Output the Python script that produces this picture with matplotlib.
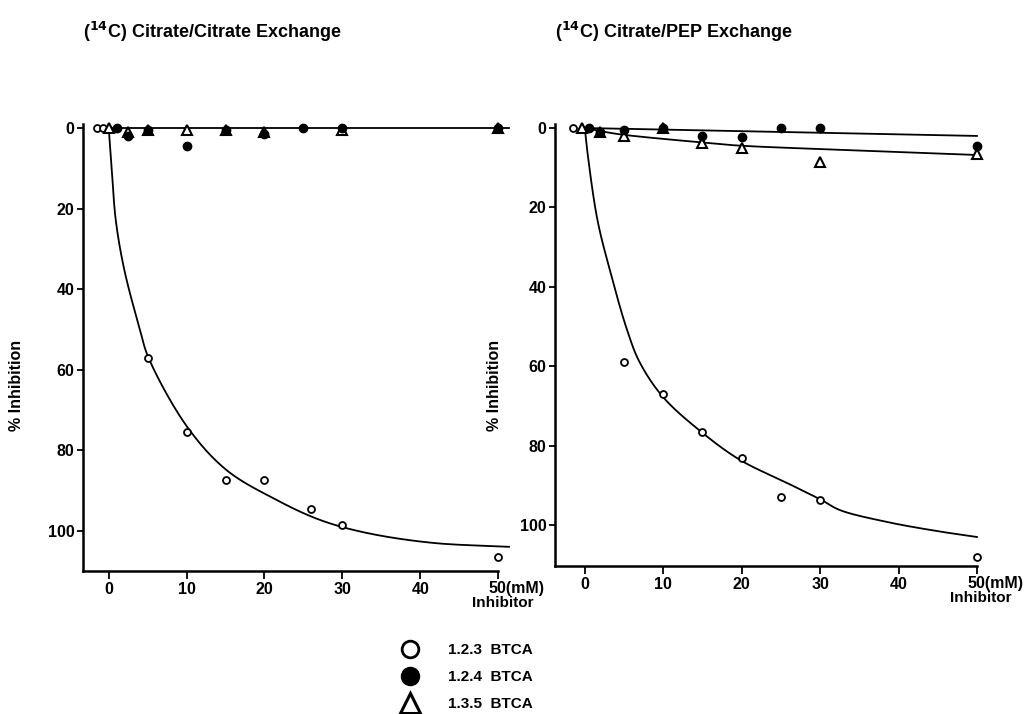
import matplotlib
matplotlib.use("Agg")
import matplotlib.pyplot as plt
from matplotlib.lines import Line2D
import numpy as np

# ---- data ----
# left panel: (14C) citrate / citrate exchange
L_open_x = [-1.5, -0.7, 5, 10, 15, 20, 26, 30, 50]
L_open_y = [0, 0, 57, 75.5, 87.5, 87.5, 94.5, 98.5, 106.5]
L_fill_x = [1, 2.5, 5, 10, 15, 20, 25, 30, 50]
L_fill_y = [0, 2, 0.5, 4.5, 0.5, 1.5, 0, 0, 0]
L_tri_x = [0, 2.5, 5, 10, 15, 20, 30, 50]
L_tri_y = [0, 1, 0.5, 0.5, 0.5, 1, 0.5, 0]
# hand drawn curves in the original
L_fit_x = [0, 0.4, 0.9, 2.0, 4.0, 5.1, 10, 15.1, 21.5, 27.1, 33.0, 41.5, 51.4]
L_fit_y = [0, 10.4, 22.8, 35.2, 50, 57, 74, 84.9, 92.3, 97.3, 100.5, 103, 104]
L_flat_x = [0.3, 51.4]
L_flat_y = [0, 0]

# right panel: (14C) citrate / PEP exchange
R_open_x = [-1.5, 5, 10, 15, 20, 25, 30, 50]
R_open_y = [0, 59, 67, 76.5, 83, 93, 93.7, 108]
R_fill_x = [0.6, 2, 5, 10, 15, 20, 25, 30, 50]
R_fill_y = [0, 1, 0.5, 0, 2, 2.3, 0, 0, 4.5]
R_tri_x = [-0.3, 2, 5, 10, 15, 20, 30, 50]
R_tri_y = [0, 1, 2, 0, 3.8, 5, 8.6, 6.5]
R_fit_x = [0, 0.3, 1.6, 3.2, 5.4, 7, 10, 14.9, 19.8, 25.8, 30.2, 32.5, 38.5, 44.9, 50]
R_fit_y = [0, 5.5, 23, 35.8, 50.9, 59, 67.8, 76.6, 83.6, 89.4, 93.7, 96.2, 99.2, 101.5, 103]
R_top_x = [0, 50]
R_top_y = [0, 2]
R_tri_fit_x = [0, 1.5, 4.5, 14.7, 19.4, 34, 50]
R_tri_fit_y = [0, 0.6, 1.6, 3.6, 4.4, 5.6, 6.8]

xticks = [0, 10, 20, 30, 40]
yticks = [0, 20, 40, 60, 80, 100]
titles = [r"($^{14}$C) Citrate/Citrate Exchange", r"($^{14}$C) Citrate/PEP Exchange"]
legend_labels = ["1.2.3  BTCA", "1.2.4  BTCA", "1.3.5  BTCA"]


def smooth(xs, ys, n=24):
    # centripetal catmull-rom through the read points, so the pen line looks drawn
    P = np.column_stack([np.asarray(xs, float) * 7.8, np.asarray(ys, float) * 4.0])
    P = np.vstack([2 * P[0] - P[1], P, 2 * P[-1] - P[-2]])
    out = [P[1]]
    for i in range(1, len(P) - 2):
        p0, p1, p2, p3 = P[i - 1], P[i], P[i + 1], P[i + 2]
        t0 = 0.0
        t1 = t0 + np.linalg.norm(p1 - p0) ** 0.5
        t2 = t1 + np.linalg.norm(p2 - p1) ** 0.5
        t3 = t2 + np.linalg.norm(p3 - p2) ** 0.5
        t = np.linspace(t1, t2, n)[1:, None]
        a1 = (t1 - t) / (t1 - t0) * p0 + (t - t0) / (t1 - t0) * p1
        a2 = (t2 - t) / (t2 - t1) * p1 + (t - t1) / (t2 - t1) * p2
        a3 = (t3 - t) / (t3 - t2) * p2 + (t - t2) / (t3 - t2) * p3
        b1 = (t2 - t) / (t2 - t0) * a1 + (t - t0) / (t2 - t0) * a2
        b2 = (t3 - t) / (t3 - t1) * a2 + (t - t1) / (t3 - t1) * a3
        c = (t2 - t) / (t2 - t1) * b1 + (t - t1) / (t2 - t1) * b2
        out.extend(c)
    out = np.array(out)
    return out[:, 0] / 7.8, out[:, 1] / 4.0


plt.rcParams['font.family'] = ['Liberation Sans', 'DejaVu Sans']
plt.rcParams['font.weight'] = 'bold'
plt.rcParams['mathtext.default'] = 'bf'

fig = plt.figure(figsize=(10.3, 7.14), dpi=100)
axL = fig.add_axes([0.0806, 0.2003, 0.403, 0.626])
axR = fig.add_axes([0.5388, 0.2073, 0.4097, 0.619])

ms_open = dict(marker='o', mfc='white', mec='black', ms=5, mew=1.3, ls='none', clip_on=False, zorder=4)
ms_fill = dict(marker='o', mfc='black', mec='black', ms=6, ls='none', clip_on=False, zorder=5)
ms_tri = dict(marker='^', mfc='white', mec='black', ms=7, mew=1.5, ls='none', clip_on=False, zorder=4)
line_kw = dict(color='black', lw=1.3, clip_on=False, zorder=3)


def style(ax, xmin, ymax, title, ylab_x):
    ax.set_xlim(xmin, 50)
    ax.set_ylim(ymax, -1)
    for s in ['top', 'right']:
        ax.spines[s].set_visible(False)
    for s in ['left', 'bottom']:
        ax.spines[s].set_linewidth(1.8)
    ax.set_xticks(xticks + [50])
    ax.set_xticklabels([str(t) for t in xticks] + [""])
    ax.set_yticks(yticks)
    ax.set_yticklabels([str(t) for t in yticks])
    ax.tick_params(axis='both', direction='out', width=1.3, length=4,
                   labelsize=11.5, pad=2)
    ax.tick_params(axis='x', length=6, pad=2)
    ax.annotate("50(mM)", xy=(50, 0), xycoords=('data', 'axes fraction'),
                xytext=(-7, -7), textcoords='offset points',
                ha='left', va='top', fontsize=11.5, fontweight='bold')
    ax.annotate("Inhibitor", xy=(50, 0), xycoords=('data', 'axes fraction'),
                xytext=(3, -18), textcoords='offset points',
                ha='center', va='top', fontsize=11, fontweight='bold')
    fig.text(ax.get_position().x0, 0.955, title, fontsize=13, fontweight='bold',
             ha='left', va='center')
    fig.text(ylab_x, 0.46, "% Inhibition", rotation=90, fontsize=11.5,
             fontweight='bold', ha='center', va='center')


axL.plot(*smooth(L_fit_x, L_fit_y), **line_kw)
axL.plot(L_flat_x, L_flat_y, **line_kw)
axL.plot(L_open_x, L_open_y, **ms_open)
axL.plot(L_tri_x, L_tri_y, **ms_tri)
axL.plot(L_fill_x, L_fill_y, **ms_fill)
style(axL, -3.3, 110, titles[0], 0.016)

axR.plot(*smooth(R_fit_x, R_fit_y), **line_kw)
axR.plot(R_top_x, R_top_y, **line_kw)
axR.plot(*smooth(R_tri_fit_x, R_tri_fit_y), **line_kw)
axR.plot(R_open_x, R_open_y, **ms_open)
axR.plot(R_tri_x, R_tri_y, **ms_tri)
axR.plot(R_fill_x, R_fill_y, **ms_fill)
style(axR, -3.8, 110.3, titles[1], 0.48)

handles = [
    Line2D([], [], marker='o', mfc='white', mec='black', ms=12, mew=2, ls='none'),
    Line2D([], [], marker='o', mfc='black', mec='black', ms=13, ls='none'),
    Line2D([], [], marker='^', mfc='white', mec='black', ms=14, mew=2.2, ls='none'),
]
fig.legend(handles, legend_labels, loc='upper left', bbox_to_anchor=(0.383, 0.108),
           frameon=False, fontsize=11, handletextpad=1.9, labelspacing=0.85,
           borderaxespad=0, handlelength=1.2)

fig.savefig("out.png", dpi=100)
